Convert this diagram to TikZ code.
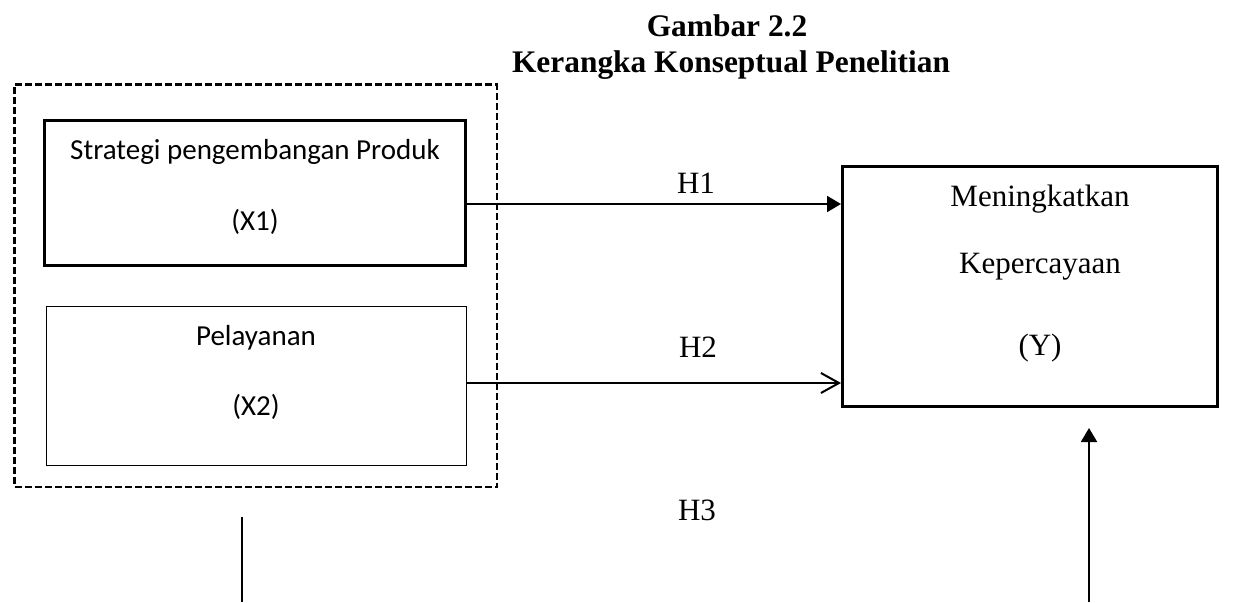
\documentclass[tikz,border=0pt]{standalone}
\usepackage{fontspec}
\setmainfont{Liberation Serif}
\newfontfamily\calfont{Carlito}
\usetikzlibrary{arrows.meta,calc}

\tikzset{
  px/.style={x=1pt,y=-1pt},
  boxthick/.style={draw,line width=3pt,rectangle,inner sep=0pt},
  boxthin/.style={draw,line width=1.3pt,rectangle,inner sep=0pt},
  groupbox/.style={draw,line width=2.3pt,dash pattern=on 7pt off 3pt,rectangle,inner sep=0pt},
  lbl/.style={inner sep=0pt,anchor=base},
  serif/.style={lbl,font=\fontsize{31}{37}\selectfont},
  titlefont/.style={lbl,font=\bfseries\fontsize{31.4}{37}\selectfont},
  calibri/.style={lbl,font=\calfont\fontsize{29}{35}\selectfont},
  link/.style={line width=2pt},
  solidhead/.style={link,-{Triangle[length=14pt,width=16pt]}},
  openhead/.style={link,-{Straight Barb[length=18pt,width=20pt,line width=2pt]}},
}

\begin{document}
\begin{tikzpicture}[px]
  \useasboundingbox (0,0) rectangle (1246,602);

  % title
  \node[titlefont] (t1) at (727,37) {Gambar 2.2};
  \node[titlefont] (t2) at (731,72) {Kerangka Konseptual Penelitian};

  % independent variables inside a dashed group
  \node[groupbox,minimum width=482.5pt,minimum height=402.5pt] (grp) at (255.75,285.75) {};
  \node[boxthick,minimum width=421pt,minimum height=145pt] (x1) at (255.3,193.3) {};
  \node[boxthin,minimum width=420.4pt,minimum height=158.6pt] (x2) at (256.5,386) {};

  \node[calibri] (x1a) at (255,159) {Strategi pengembangan Produk};
  \node[calibri] (x1b) at (255,230) {(X1)};
  \node[calibri] (x2a) at (256,345) {Pelayanan};
  \node[calibri] (x2b) at (256,415) {(X2)};

  % dependent variable
  \node[boxthick,minimum width=375pt,minimum height=240pt] (yb) at (1030,286.5) {};
  \node[serif] (ya) at (1040,206) {Meningkatkan};
  \node[serif] (yc) at (1040,273) {Kepercayaan};
  \node[serif] (yd) at (1040,355) {(Y)};

  % hypothesis labels
  \node[serif] (h1) at (696,193) {H1};
  \node[serif] (h2) at (698,357) {H2};
  \node[serif] (h3) at (697,520) {H3};

  % connectors
  \coordinate (s1) at ($(x1.east)+(0,10.7)$);
  \draw[solidhead] (s1) -- (s1 -| yb.west);

  \coordinate (s2) at ($(x2.east)+(0,-3)$);
  \draw[openhead] (s2) -- (s2 -| yb.west);

  \coordinate (b2) at (1089,602);
  \draw[solidhead] (b2) -- ($(b2 |- yb.south)+(0,20)$);

  \coordinate (l1a) at (242,517);
  \coordinate (l1b) at (242,602);
  \draw[link] (l1a) -- (l1b);
\end{tikzpicture}
\end{document}
